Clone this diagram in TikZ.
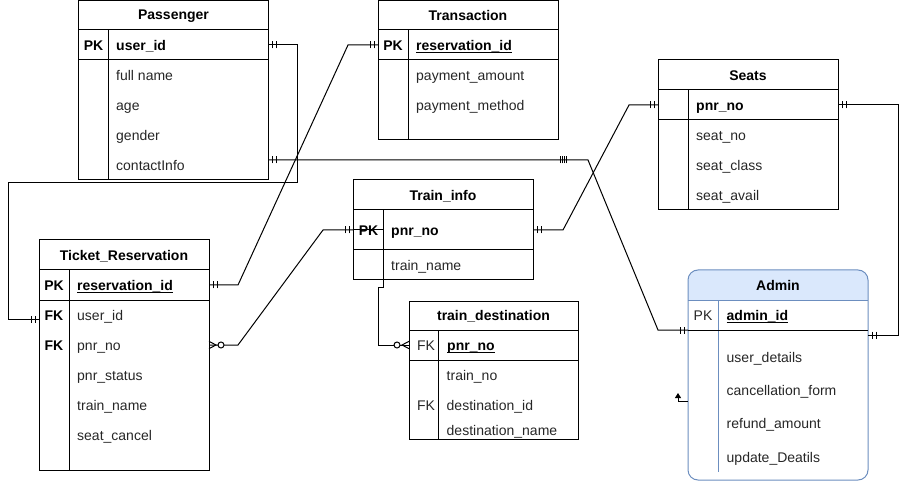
\documentclass[tikz,border=0pt]{standalone}
\usepackage{fontspec}
\setmainfont{Liberation Sans}
\usetikzlibrary{decorations.markings,arrows.meta}
\definecolor{txt}{HTML}{262626}
\definecolor{admfill}{HTML}{DAE8FC}
\definecolor{admline}{HTML}{6C8EBF}
\newcommand\fs{\fontsize{14pt}{16pt}\selectfont}
\tikzset{
  ln/.style={line width=1pt},
  conn/.style={line width=1pt, line join=miter},
  tick/.style={line width=1pt},
  onestart/.style={postaction={decorate,decoration={markings,
    mark=at position 4pt with {\draw[tick] (0,-3.5pt)--(0,3.5pt);},
    mark=at position 8pt with {\draw[tick] (0,-3.5pt)--(0,3.5pt);}}}},
  oneend/.style={postaction={decorate,decoration={markings,
    mark=at position -4pt with {\draw[tick] (0,-3.5pt)--(0,3.5pt);},
    mark=at position -8pt with {\draw[tick] (0,-3.5pt)--(0,3.5pt);}}}},
  midquad/.style={postaction={decorate,decoration={markings,
    mark=at position 291.5pt with {\draw[tick] (0,-3.5pt)--(0,3.5pt);},
    mark=at position 293.5pt with {\draw[tick] (0,-3.5pt)--(0,3.5pt);},
    mark=at position 295.5pt with {\draw[tick] (0,-3.5pt)--(0,3.5pt);},
    mark=at position 297.5pt with {\draw[tick] (0,-3.5pt)--(0,3.5pt);}}}},
  manystart/.style={postaction={decorate,decoration={markings,
    mark=at position 0pt with {\draw[tick] (0,3.7pt)--(7pt,0)--(0,-3.7pt);
      \draw[tick,fill=white] (12pt,0) circle (3pt);}}}},
  manyend/.style={postaction={decorate,decoration={markings,
    mark=at position 1 with {\draw[tick] (0,3.7pt)--(-7pt,0)--(0,-3.7pt);
      \draw[tick,fill=white] (-12pt,0) circle (3pt);}}}},
  tbox/.style={draw, line width=1pt, inner sep=0pt, outer sep=0pt, anchor=north west},
  rowb/.style={inner sep=0pt, outer sep=0pt, anchor=north west},
  ttl/.style={font=\fs\bfseries, anchor=base, inner sep=0pt, text=black},
  fld/.style={font=\fs, anchor=base west, inner sep=0pt, text=txt},
  fldb/.style={font=\fs\bfseries, anchor=base west, inner sep=0pt, text=black},
  keyr/.style={font=\fs, anchor=base, inner sep=0pt, text=txt},
  keyb/.style={font=\fs\bfseries, anchor=base, inner sep=0pt, text=black},
}
\begin{document}
\begin{tikzpicture}[x=1pt,y=-1pt]
\useasboundingbox (0,0) rectangle (908,481);

% ---------- Passenger ----------
\node[tbox, minimum width=190pt, minimum height=179pt] (pass) at (78.5,1) {};
\draw[ln] (78.5,30) -- (268.5,30);
\draw[ln] (78.5,60) -- (268.5,60);
\draw[ln] (108,30) -- (108,180);
\node[rowb, minimum width=190pt, minimum height=30pt] (pass-r1) at (78.5,30) {};
\node[rowb, minimum width=190pt, minimum height=30pt] (pass-r5) at (78.5,150) {};
\node[ttl] (pass-t) at (173.5,20) {Passenger};
\node[keyb] (pass-k) at (93.5,50.5) {PK};
\node[fldb] (pass-f1) at (116,50.5) {user\_id};
\node[fld] (pass-f2) at (116,80.5) {full name};
\node[fld] (pass-f3) at (116,110.5) {age};
\node[fld] (pass-f4) at (116,140.5) {gender};
\node[fld] (pass-f5) at (116,170.5) {contactInfo};

% ---------- Transaction ----------
\node[tbox, minimum width=180pt, minimum height=139pt] (trans) at (378,1) {};
\draw[ln] (378,30) -- (558,30);
\draw[ln] (378,60) -- (558,60);
\draw[ln] (408,30) -- (408,140);
\node[rowb, minimum width=180pt, minimum height=30pt] (trans-r0) at (378,30) {};
\node[ttl] (trans-t) at (468,20.5) {Transaction};
\node[keyb] (trans-k) at (393,50.5) {PK};
\node[fldb] (trans-f1) at (416,50.5) {reservation\_id};
\draw[ln] ([yshift=-2pt]trans-f1.base west) -- ([yshift=-2pt]trans-f1.base east);
\node[fld] (trans-f2) at (416,80.5) {payment\_amount};
\node[fld] (trans-f3) at (416,110.5) {payment\_method};

% ---------- Seats ----------
\node[tbox, minimum width=180pt, minimum height=150pt] (seat) at (658,60) {};
\draw[ln] (658,90) -- (838,90);
\draw[ln] (658,120) -- (838,120);
\draw[ln] (688,90) -- (688,210);
\node[rowb, minimum width=180pt, minimum height=30pt] (seat-r0) at (658,90) {};
\node[ttl] (seat-t) at (748,80.5) {Seats};
\node[fldb] (seat-f1) at (696,110.5) {pnr\_no};
\node[fld] (seat-f2) at (696,140.5) {seat\_no};
\node[fld] (seat-f3) at (696,170.5) {seat\_class};
\node[fld] (seat-f4) at (696,200.5) {seat\_avail};

% ---------- Train_info ----------
\node[tbox, minimum width=180pt, minimum height=100pt] (tinfo) at (353,180) {};
\draw[ln] (353,210) -- (533,210);
\draw[ln] (353,250) -- (533,250);
\draw[ln] (383,210) -- (383,280);
\node[rowb, minimum width=180pt, minimum height=40pt] (tinfo-r0) at (353,210) {};
\node[ttl] (tinfo-t) at (443,200.5) {Train\_info};
\node[keyb] (tinfo-k) at (368.5,235.5) {PK};
\node[fldb] (tinfo-f1) at (391,235.5) {pnr\_no};
\node[fld] (tinfo-f2) at (391,270.5) {train\_name};

% ---------- train_destination ----------
\node[tbox, minimum width=169pt, minimum height=138pt] (tdest) at (409,301) {};
\draw[ln] (409,330) -- (578,330);
\draw[ln] (409,360) -- (578,360);
\draw[ln] (438,330) -- (438,439);
\node[rowb, minimum width=169pt, minimum height=30pt] (tdest-r0) at (409,330) {};
\node[ttl] (tdest-t) at (493.5,320.5) {train\_destination};
\node[keyr] (tdest-k1) at (426,350.5) {FK};
\node[fldb] (tdest-f1) at (447,350.5) {pnr\_no};
\draw[ln] ([yshift=-2pt]tdest-f1.base west) -- ([yshift=-2pt]tdest-f1.base east);
\node[fld] (tdest-f2) at (446.5,380.5) {train\_no};
\node[keyr] (tdest-k3) at (426,410.5) {FK};
\node[fld] (tdest-f3) at (446.5,410.5) {destination\_id};
\node[fld] (tdest-f4) at (446.5,435.5) {destination\_name};

% ---------- Ticket_Reservation ----------
\node[tbox, minimum width=170pt, minimum height=230pt] (tick) at (39,240) {};
\draw[ln] (39,270) -- (209,270);
\draw[ln] (39,300) -- (209,300);
\draw[ln] (69,270) -- (69,470);
\node[rowb, minimum width=170pt, minimum height=30pt] (tick-r0) at (39,270) {};
\node[rowb, minimum width=170pt, minimum height=30pt] (tick-r1) at (39,300) {};
\node[rowb, minimum width=170pt, minimum height=30pt] (tick-r2) at (39,330) {};
\node[ttl] (tick-t) at (124,260.5) {Ticket\_Reservation};
\node[keyb] (tick-k0) at (54,290.5) {PK};
\node[fldb] (tick-f0) at (77,290.5) {reservation\_id};
\draw[ln] ([yshift=-2pt]tick-f0.base west) -- ([yshift=-2pt]tick-f0.base east);
\node[keyb] (tick-k1) at (54,320.5) {FK};
\node[fld] (tick-f1) at (77,320.5) {user\_id};
\node[keyb] (tick-k2) at (54,350.5) {FK};
\node[fld] (tick-f2) at (77,350.5) {pnr\_no};
\node[fld] (tick-f3) at (77,380.5) {pnr\_status};
\node[fld] (tick-f4) at (77,410.5) {train\_name};
\node[fld] (tick-f5) at (77,440.5) {seat\_cancel};

% ---------- Admin ----------
\begin{scope}
  \clip (688,270) rectangle (868,300);
  \fill[admfill, rounded corners=10pt] (688,270) rectangle (868,480);
\end{scope}
\draw[ln, admline] (688,300) -- (868,300);
\draw[ln, admline] (718,300) -- (718,472);
\node[tbox, draw=admline, rounded corners=10pt, minimum width=180pt, minimum height=210pt] (adm) at (688,270) {};
\node[rowb, minimum width=180pt, minimum height=30pt] (adm-r0) at (688,300) {};
\node[ttl] (adm-t) at (778,290.5) {Admin};
\node[keyr] (adm-k) at (703,320) {PK};
\node[fldb] (adm-f1) at (726.5,320) {admin\_id};
\draw[ln] ([yshift=-2pt]adm-f1.base west) -- ([yshift=-2pt]adm-f1.base east);
\node[fld] (adm-f2) at (726.5,362) {user\_details};
\node[fld] (adm-f3) at (726.5,395.5) {cancellation\_form};
\node[fld] (adm-f4) at (726.5,428.5) {refund\_amount};
\node[fld] (adm-f5) at (726.5,462.5) {update\_Deatils};
\draw[ln] (adm-r0.south west) -- (adm-r0.south east);

% ---------- Connectors ----------
\draw[conn, onestart, oneend] (pass-r1.east) -- (297.5,45) -- (297.5,182.5) -- (8.5,182.5) -- (8.5,319) -- ([yshift=-4pt]tick-r1.west);
\draw[conn, onestart, oneend] (tick-r0.east) -- (238,285) -- (348,45) -- (trans-r0.west);
\draw[conn, manystart, oneend] (tick-r2.east) -- (238,345) -- (323,230) -- (tinfo-r0.west);
\draw[conn] (tinfo-r0.west) -- (383,230);
\draw[conn, onestart, oneend] (tinfo-r0.east) -- (563,230) -- (629,105) -- (seat-r0.west);
\draw[conn, onestart, oneend, midquad] ([yshift=5pt]pass-r5.east) -- (588,160) -- (658,330) -- (adm-r0.south west);
\draw[conn, onestart, oneend] (seat-r0.east) -- (898,105) -- (898,335) -- ([yshift=-5pt]adm-r0.south east);
\draw[conn, manyend] ([xshift=30pt]tinfo.south west) -- (383,287.5) -- (378.5,287.5) -- (378.5,345) -- (tdest-r0.west);
\draw[conn, -{Triangle[width=6pt,length=5pt]}] ([yshift=-131pt]adm.north west) -- (678,401) -- (678,393);
\end{tikzpicture}
\end{document}
